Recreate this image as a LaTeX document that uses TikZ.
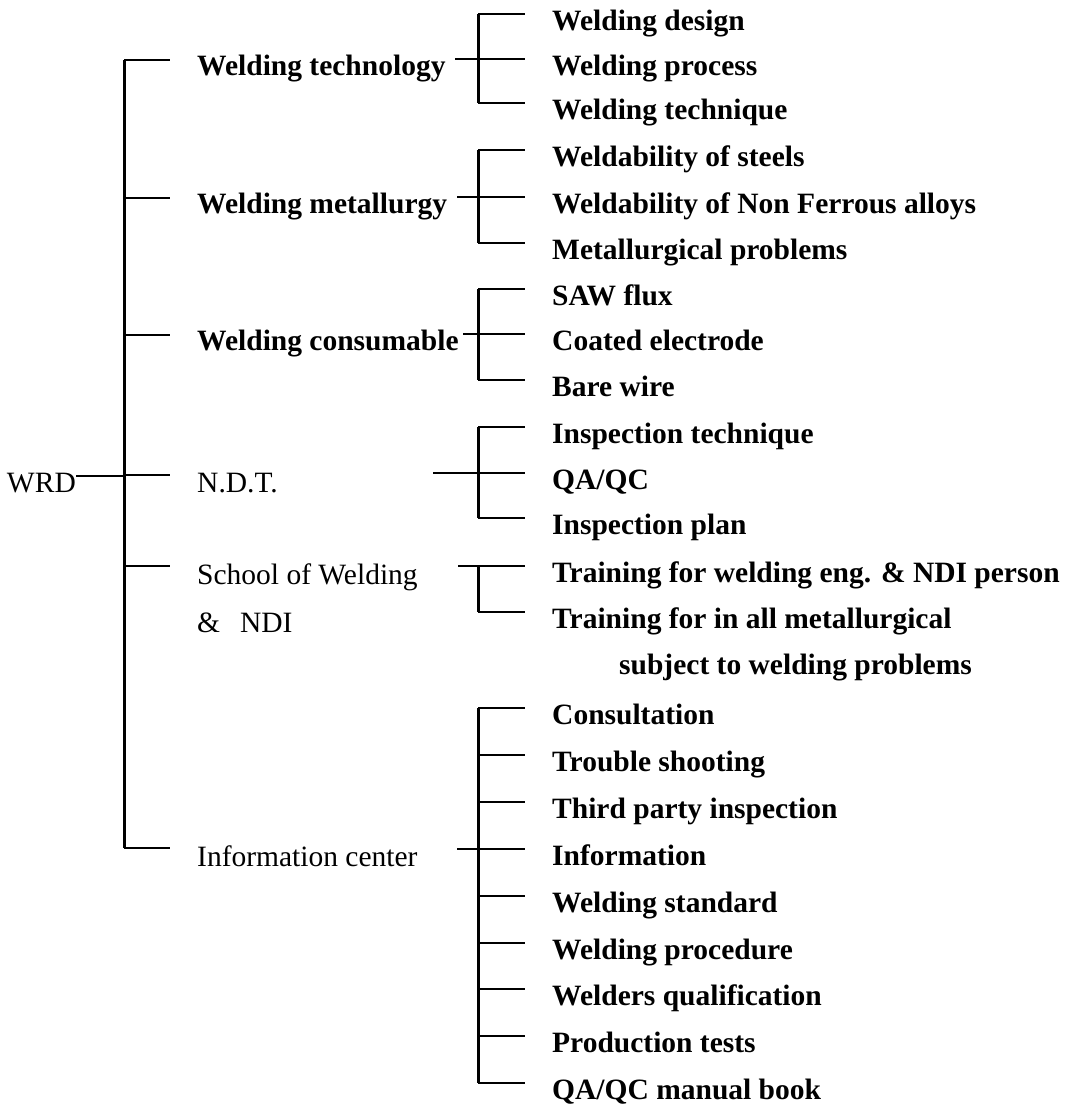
\documentclass[tikz,border=0pt]{standalone}
\usepackage{fontspec}
\setmainfont{Liberation Serif}
\begin{document}
\begin{tikzpicture}[x=1pt,y=-1pt,
  hline/.style={line width=1.5pt},
  vline/.style={line width=3pt},
  leaf/.style={anchor=base west,inner sep=0pt,font=\fontsize{29.5}{34}\selectfont\bfseries},
  lvl/.style={anchor=base west,inner sep=0pt,font=\fontsize{29.5}{34}\selectfont\bfseries},
  lvlr/.style={anchor=base west,inner sep=0pt,font=\fontsize{29.5}{34}\selectfont}]
\useasboundingbox (0,0) rectangle (1069,1106);
% root
\node[lvlr,anchor=base east] (wrd) at (76,492) {WRD};
\coordinate (mTop) at (124,60);
\coordinate (mBot) at (124,848);
\coordinate (mRoot) at (124,476);
\draw[hline] (wrd.east |- mRoot) -- (mRoot);
\draw[vline] (mTop) -- (mBot);
% level 1
\foreach \n/\y/\yb/\t/\s in {tech/60/75/{Welding technology}/lvl,
  met/198/213/{Welding metallurgy}/lvl,
  cons/335/350/{Welding consumable}/lvl,
  ndt/475/492/{N.D.T.}/lvlr,
  sch/566/584/{School of Welding}/lvlr,
  info/848/866/{Information center}/lvlr}{
  \coordinate (a\n) at (124,\y);
  \coordinate (c\n) at (170,\y);
  \draw[hline] (a\n) -- (c\n);
  \node[\s] (L\n) at (197,\yb) {\t};
}
\node[lvlr] (ndi) at (197,632) {\&\hspace{20pt}NDI};
% connectors from level 1 to brackets
\foreach \n/\x/\y in {tech/455/59, met/457/197, cons/463/334, ndt/433/473, sch/458/566, info/457/849}{
  \coordinate (k\n) at (\x,\y);
  \coordinate (j\n) at (478,\y);
  \draw[hline] (k\n) -- (j\n);
}
% leaves
\foreach \n/\y/\t in {
  t1/14/{Welding design}, t2/59/{Welding process}, t3/103/{Welding technique},
  m1/150/{Weldability of steels}, m2/197/{Weldability of Non Ferrous alloys}, m3/243/{Metallurgical problems},
  c1/289/{SAW flux}, c2/334/{Coated electrode}, c3/380/{Bare wire},
  n1/427/{Inspection technique}, n2/473/{QA/QC}, n3/518/{Inspection plan},
  s1/566/{Training for welding eng. \& NDI person}, s2/612/{Training for in all metallurgical},
  i1/708/{Consultation}, i2/755/{Trouble shooting}, i3/802/{Third party inspection},
  i4/849/{Information}, i5/896/{Welding standard}, i6/943/{Welding procedure},
  i7/989/{Welders qualification}, i8/1036/{Production tests}, i9/1083/{QA/QC manual book}}{
  \coordinate (b\n) at (478,\y);
  \coordinate (e\n) at (525,\y);
  \draw[hline] (b\n) -- (e\n);
  \node[leaf] (x\n) at (552,\y+16) {\t};
}
\node[leaf] (xs3) at (619,674) {subject to welding problems};
% bracket verticals
\draw[vline] (bt1) -- (bt3);
\draw[vline] (bm1) -- (bm3);
\draw[vline] (bc1) -- (bc3);
\draw[vline] (bn1) -- (bn3);
\draw[vline] (bs1) -- (bs2);
\draw[vline] (bi1) -- (bi9);
\end{tikzpicture}
\end{document}
